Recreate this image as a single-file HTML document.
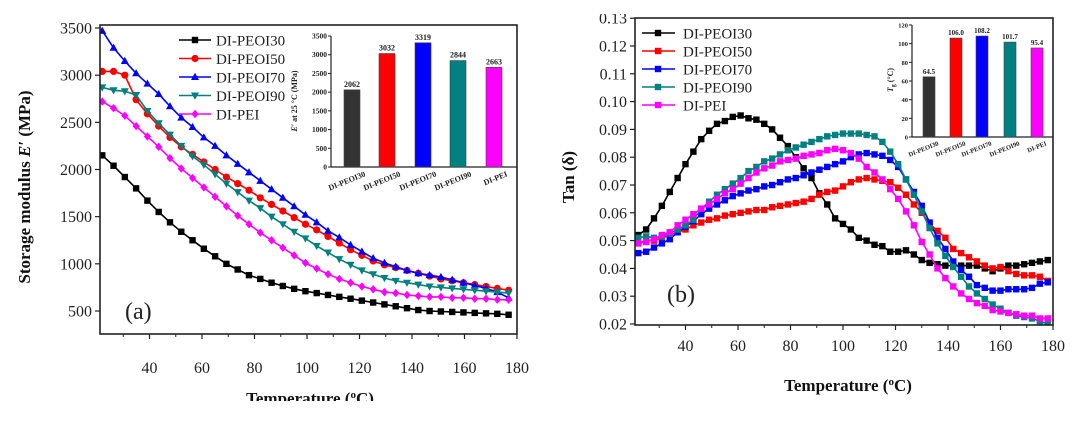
<!DOCTYPE html>
<html><head><meta charset="utf-8"><style>
body{margin:0;background:#fff;}
svg{display:block;font-family:"Liberation Serif",serif;}
</style></head><body>
<svg id="s" width="1080" height="446" viewBox="0 0 1080 446"></svg>
<script>
// ---- Data: panel (a) storage modulus ----
const tempA = [22,26.3,30.6,34.9,39.2,43.5,47.8,52.1,56.4,60.7,65,69.3,73.6,77.9,82.2,86.5,90.8,95.1,99.4,103.7,108,112.3,116.6,120.9,125.2,129.5,133.8,138.1,142.4,146.7,151,155.3,159.6,163.9,168.2,172.5,176.8];
const e30 = [2150,2040,1920,1800,1670,1550,1440,1340,1250,1160,1080,1000,940,880,840,800,765,735,710,690,670,650,630,610,590,570,550,530,510,500,495,490,485,480,475,470,460];
const e50 = [3040,3040,3000,2740,2590,2460,2340,2240,2160,2080,2000,1920,1850,1780,1700,1630,1560,1490,1420,1360,1290,1220,1150,1090,1030,990,960,930,900,870,840,820,800,780,760,740,720];
const e70 = [3470,3290,3150,3020,2910,2800,2670,2550,2450,2340,2250,2150,2060,1970,1880,1790,1700,1610,1520,1440,1350,1280,1200,1130,1060,1010,970,930,900,880,860,830,800,770,740,700,640];
const e90 = [2870,2840,2830,2790,2620,2490,2370,2250,2140,2050,1950,1850,1760,1670,1590,1500,1420,1340,1270,1190,1120,1050,990,930,890,850,820,800,780,760,750,740,730,720,710,700,690];
const ePEI = [2720,2650,2570,2460,2350,2240,2120,2010,1910,1810,1710,1610,1510,1420,1330,1250,1170,1090,1010,950,890,840,800,760,730,700,690,670,660,650,650,640,640,630,630,620,620];
const ticksAx = [40,60,80,100,120,140,160,180];
const ticksAy = [500,1000,1500,2000,2500,3000,3500];
const insetAvals = [2062,3032,3319,2844,2663];
const insetAticks = [0,500,1000,1500,2000,2500,3000,3500];
// ---- Data: panel (b) tan delta ----
const tempB = [22,25,28,31,34,37,40,43,46,49,52,55,58,61,64,67,70,73,76,79,82,85,88,91,94,97,100,103,106,109,112,115,118,121,124,127,130,133,136,139,142,145,148,151,154,157,160,163,166,169,172,175,178];
const t30 = [0.052,0.054,0.058,0.0625,0.0675,0.0725,0.0775,0.082,0.0865,0.0895,0.092,0.093,0.0945,0.095,0.094,0.0935,0.092,0.090,0.087,0.084,0.080,0.076,0.0725,0.067,0.063,0.058,0.056,0.054,0.051,0.050,0.0485,0.048,0.046,0.046,0.0465,0.045,0.043,0.042,0.0415,0.041,0.041,0.041,0.041,0.041,0.040,0.039,0.040,0.041,0.041,0.0415,0.042,0.0425,0.043];
const t50 = [0.049,0.050,0.050,0.051,0.052,0.053,0.054,0.0555,0.0565,0.0575,0.058,0.059,0.0595,0.060,0.0605,0.061,0.061,0.062,0.0625,0.063,0.0635,0.064,0.065,0.0665,0.0675,0.068,0.0695,0.071,0.072,0.0725,0.072,0.0715,0.071,0.069,0.0665,0.063,0.060,0.056,0.0535,0.051,0.047,0.0455,0.044,0.0425,0.041,0.040,0.0405,0.039,0.038,0.0375,0.0375,0.037,0.0355];
const t70 = [0.0455,0.046,0.0475,0.049,0.0505,0.053,0.055,0.057,0.0595,0.0615,0.063,0.0645,0.066,0.067,0.068,0.0685,0.0695,0.070,0.071,0.072,0.0725,0.0735,0.0745,0.0755,0.0765,0.0775,0.0785,0.080,0.081,0.0815,0.081,0.0805,0.079,0.0765,0.072,0.0675,0.0625,0.0565,0.051,0.047,0.0425,0.0395,0.037,0.034,0.033,0.032,0.032,0.0325,0.0325,0.0325,0.033,0.0345,0.035];
const t90 = [0.051,0.0515,0.051,0.0515,0.0525,0.054,0.0555,0.0575,0.0615,0.064,0.0665,0.0685,0.0705,0.0725,0.075,0.0765,0.0785,0.0795,0.081,0.0825,0.0835,0.0845,0.0855,0.0865,0.0875,0.088,0.0885,0.0885,0.0885,0.088,0.0875,0.0855,0.082,0.0775,0.072,0.0665,0.0605,0.0545,0.049,0.0445,0.0405,0.037,0.0335,0.031,0.029,0.027,0.0255,0.024,0.023,0.0225,0.022,0.021,0.020];
const tPEI = [0.049,0.0495,0.0505,0.052,0.053,0.0555,0.0575,0.0595,0.0615,0.063,0.065,0.067,0.0685,0.0705,0.0725,0.0745,0.076,0.077,0.0785,0.079,0.0795,0.0805,0.081,0.0815,0.0825,0.083,0.0825,0.0815,0.0795,0.0765,0.0745,0.072,0.0685,0.065,0.0605,0.0555,0.0495,0.045,0.040,0.0365,0.0335,0.031,0.029,0.0275,0.0265,0.025,0.0245,0.024,0.0235,0.023,0.023,0.022,0.022];
const ticksBx = [40,60,80,100,120,140,160,180];
const ticksBy = [0.02,0.03,0.04,0.05,0.06,0.07,0.08,0.09,0.10,0.11,0.12,0.13];
const insetBvals = [64.5,106.0,108.2,101.7,95.4];
const insetBticks = [0,20,40,60,80,100,120];
const names = ['DI-PEOI30','DI-PEOI50','DI-PEOI70','DI-PEOI90','DI-PEI'];
const colors = ['#000000','#ff0000','#0000ff','#008080','#ff00ff'];

const svg = document.getElementById('s');
const NS = 'http://www.w3.org/2000/svg';
function mk(tag, attrs, parent){const e=document.createElementNS(NS,tag);for(const k in attrs)e.setAttribute(k,attrs[k]);(parent||svg).appendChild(e);return e;}
function txt(s,attrs,parent){const e=mk('text',attrs,parent);e.textContent=s;return e;}

// axis functions
const axA = {x:t=>100+(t-40)*2.625+49.5, y:v=>311-(v-500)*(283/3000)};
axA.x = t=>149.5+(t-40)*2.625;
const axB = {x:t=>685.5+(t-40)*2.625, y:v=>324-(v-0.02)*2780};

function marker(g,shape,x,y,c){
  let e;
  if(shape==='sq'){e=mk('rect',{x:x-3.2,y:y-3.2,width:6.4,height:6.4,fill:c},g);}
  else if(shape==='ci'){e=mk('circle',{cx:x,cy:y,r:3.6,fill:c},g);}
  else if(shape==='tu'){e=mk('polygon',{points:`${x},${y-4.2} ${x-4},${y+3} ${x+4},${y+3}`,fill:c},g);}
  else if(shape==='td'){e=mk('polygon',{points:`${x},${y+4.2} ${x-4},${y-3} ${x+4},${y-3}`,fill:c},g);}
  else {e=mk('polygon',{points:`${x},${y-4.2} ${x+3.6},${y} ${x},${y+4.2} ${x-3.6},${y}`,fill:c},g);}
  
  
}
function series(ax,xs,ys,c,shape,name){
  const g=mk('g',{});
  
  
  const pts=xs.map((t,i)=>ax.x(t).toFixed(1)+','+ax.y(ys[i]).toFixed(1)).join(' ');
  mk('polyline',{points:pts,fill:'none',stroke:c,'stroke-width':1.6},g);
  xs.forEach((t,i)=>marker(g,shape,ax.x(t),ax.y(ys[i]),c));
}

// ===== Panel A =====
const clipA=mk('clipPath',{id:'ca'});mk('rect',{x:100,y:25,width:417,height:309},clipA);
const clipB=mk('clipPath',{id:'cb'});mk('rect',{x:635,y:18,width:418,height:307},clipB);

const shapesA=['sq','ci','tu','td','di'];
const dataA=[e30,e50,e70,e90,ePEI];
const gA=mk('g',{'clip-path':'url(#ca)'});


const oldSvg=svg;
dataA.forEach((d,i)=>{
  const g=mk('g',{},gA);
  
  
  const pts=tempA.map((t,j)=>axA.x(t).toFixed(1)+','+axA.y(d[j]).toFixed(1)).join(' ');
  mk('polyline',{points:pts,fill:'none',stroke:colors[i],'stroke-width':1.6},g);
  tempA.forEach((t,j)=>marker(g,shapesA[i],axA.x(t),axA.y(d[j]),colors[i]));
});
const frameA=mk('rect',{x:100,y:25,width:417,height:309,fill:'none',stroke:'#222','stroke-width':1.6});


ticksAx.forEach(t=>{
  const x=axA.x(t);
  mk('line',{x1:x,y1:334,x2:x,y2:339,stroke:'#222','stroke-width':1.2});
  const m=axA.x(t-10); if(m>100) mk('line',{x1:m,y1:334,x2:m,y2:337,stroke:'#222','stroke-width':1});
  const l=txt(String(t),{x:x,y:373,'font-size':16,'text-anchor':'middle',fill:'#222'});
  
  
});
ticksAy.forEach(v=>{
  const y=axA.y(v);
  mk('line',{x1:95,y1:y,x2:100,y2:y,stroke:'#222','stroke-width':1.2});
  const l=txt(String(v),{x:92,y:y+5.5,'font-size':16,'text-anchor':'end',fill:'#222'});
  
  
});
let t1=txt('',{x:0,y:0,'font-size':17,'font-weight':'bold','text-anchor':'middle',transform:'translate(30,187) rotate(-90)',fill:'#111'});
t1.innerHTML='Storage modulus <tspan font-style="italic">E\u2032</tspan> (MPa)';


let t2=txt('',{x:310,y:404,'font-size':17,'font-weight':'bold','text-anchor':'middle',fill:'#111'});
t2.innerHTML='Temperature (<tspan font-size="11" dy="-6">o</tspan><tspan dy="6">C)</tspan>';


let la=txt('(a)',{x:125,y:319,'font-size':24,fill:'#222'});


// legend A
names.forEach((n,i)=>{
  const y=40+i*18.5;
  const g=mk('g',{});
  
  
  mk('line',{x1:179,y1:y,x2:211,y2:y,stroke:colors[i],'stroke-width':1.6},g);
  marker(g,shapesA[i],195,y,colors[i]);
  txt(n,{x:216,y:y+5.5,'font-size':15,fill:'#222'},g);
});
// inset A
const iaY=v=>167-v*(131/3500);
const iaX=[352,387,423,458,494];
mk('line',{x1:331,y1:36,x2:331,y2:167,stroke:'#222','stroke-width':1.2});
mk('line',{x1:331,y1:167,x2:517,y2:167,stroke:'#222','stroke-width':1.2});
insetAticks.forEach(v=>{
  mk('line',{x1:328,y1:iaY(v),x2:331,y2:iaY(v),stroke:'#222','stroke-width':1});
  txt(String(v),{x:327,y:iaY(v)+2.5,'font-size':7.5,'font-weight':'bold','text-anchor':'end',fill:'#222'});
});
insetAvals.forEach((v,i)=>{
  const b=mk('rect',{x:iaX[i]-8,y:iaY(v),width:16,height:167-iaY(v),fill:colors[i]==='#000000'?'#333':colors[i],stroke:'#444','stroke-width':0.6});
  
  
  txt(String(v),{x:iaX[i],y:iaY(v)-3,'font-size':8,'font-weight':'bold','text-anchor':'middle',fill:'#222'});
  txt(names[i],{x:0,y:0,'font-size':8,'font-weight':'bold','text-anchor':'end',transform:`translate(${iaX[i]+14},176) rotate(-22)`,fill:'#222'});
});
let ia=txt('',{x:0,y:0,'font-size':8,'font-weight':'bold','text-anchor':'middle',transform:'translate(297,101) rotate(-90)',fill:'#222'});
ia.innerHTML='<tspan font-style="italic">E\u2032</tspan> at 25 \u00b0C (MPa)';



// ===== Panel B =====
const gB=mk('g',{'clip-path':'url(#cb)'});


const dataB=[t30,t50,t70,t90,tPEI];
dataB.forEach((d,i)=>{
  const g=mk('g',{},gB);
  
  
  const pts=tempB.map((t,j)=>axB.x(t).toFixed(1)+','+axB.y(d[j]).toFixed(1)).join(' ');
  mk('polyline',{points:pts,fill:'none',stroke:colors[i],'stroke-width':1.6},g);
  tempB.forEach((t,j)=>marker(g,'sq',axB.x(t),axB.y(d[j]),colors[i]));
});
const frameB=mk('rect',{x:635,y:18,width:418,height:307,fill:'none',stroke:'#222','stroke-width':1.6});


mk('rect',{x:580,y:0,width:100,height:13,fill:'#fff'});
ticksBx.forEach(t=>{
  const x=axB.x(t);
  mk('line',{x1:x,y1:325,x2:x,y2:330,stroke:'#222','stroke-width':1.2});
  const m=axB.x(t-10); if(m>635) mk('line',{x1:m,y1:325,x2:m,y2:328,stroke:'#222','stroke-width':1});
  const l=txt(String(t),{x:x,y:351,'font-size':16,'text-anchor':'middle',fill:'#222'});
  
  
});
ticksBy.forEach(v=>{
  const y=axB.y(v);
  mk('line',{x1:630,y1:y,x2:635,y2:y,stroke:'#222','stroke-width':1.2});
  const l=txt(v.toFixed(2),{x:627,y:y+5.5,'font-size':16,'text-anchor':'end',fill:'#222'});
  
  
});
mk('rect',{x:580,y:0,width:55,height:14,fill:'#fff'});
let t3=txt('Tan (\u03b4)',{x:0,y:0,'font-size':17,'font-weight':'bold','text-anchor':'middle',transform:'translate(574,177) rotate(-90)',fill:'#111'});


let t4=txt('',{x:848,y:391,'font-size':17,'font-weight':'bold','text-anchor':'middle',fill:'#111'});
t4.innerHTML='Temperature (<tspan font-size="11" dy="-6">o</tspan><tspan dy="6">C)</tspan>';


let lb=txt('(b)',{x:667,y:302,'font-size':24,fill:'#222'});


names.forEach((n,i)=>{
  const y=33+i*18;
  const g=mk('g',{});
  
  
  mk('line',{x1:642,y1:y,x2:675,y2:y,stroke:colors[i],'stroke-width':1.6},g);
  marker(g,'sq',658,y,colors[i]);
  txt(n,{x:683,y:y+5.5,'font-size':15,fill:'#222'},g);
});
// inset B
const ibY=v=>137-v*(112/120);
const ibX=[929,956,982,1010,1037];
mk('line',{x1:912,y1:25,x2:912,y2:137,stroke:'#222','stroke-width':1.2});
mk('line',{x1:912,y1:137,x2:1053,y2:137,stroke:'#222','stroke-width':1.2});
insetBticks.forEach(v=>{
  mk('line',{x1:909,y1:ibY(v),x2:912,y2:ibY(v),stroke:'#222','stroke-width':1});
  txt(String(v),{x:908,y:ibY(v)+2.5,'font-size':6.5,'font-weight':'bold','text-anchor':'end',fill:'#222'});
});
insetBvals.forEach((v,i)=>{
  const b=mk('rect',{x:ibX[i]-6,y:ibY(v),width:12,height:137-ibY(v),fill:colors[i]==='#000000'?'#333':colors[i],stroke:'#444','stroke-width':0.6});
  
  
  txt(v.toFixed(1),{x:ibX[i],y:ibY(v)-3,'font-size':7,'font-weight':'bold','text-anchor':'middle',fill:'#222'});
  txt(names[i],{x:0,y:0,'font-size':6.5,'font-weight':'bold','text-anchor':'end',transform:`translate(${ibX[i]+10},145) rotate(-22)`,fill:'#222'});
});
let ib=txt('',{x:0,y:0,'font-size':8,'font-weight':'bold','text-anchor':'middle',transform:'translate(893,80) rotate(-90)',fill:'#222'});
ib.innerHTML='<tspan font-style="italic">T</tspan><tspan font-size="6" dy="2">g</tspan><tspan dy="-2"> (\u00b0C)</tspan>';


// clip bottom of left x title like the reference
mk('rect',{x:200,y:401,width:220,height:45,fill:'#fff'});
</script>
</body></html>
